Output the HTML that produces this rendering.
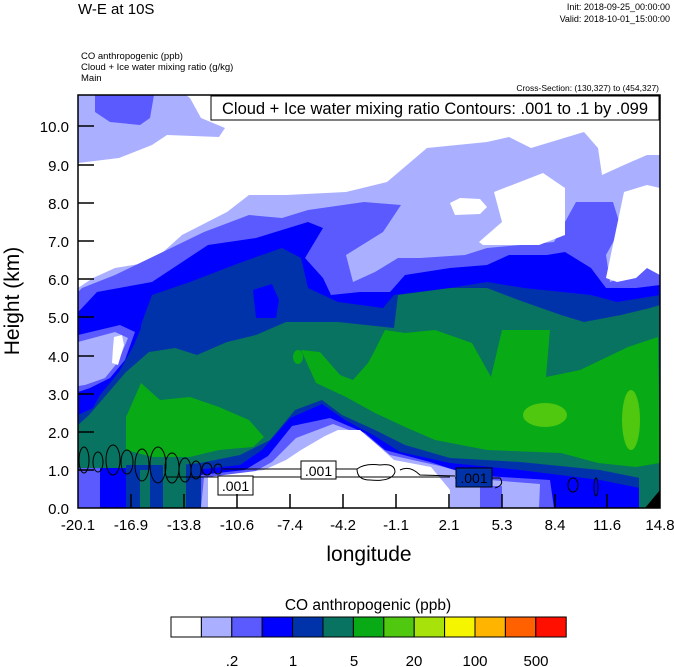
<!DOCTYPE html>
<html><head><meta charset="utf-8"><style>
html,body{margin:0;padding:0;background:#fff;}
svg{display:block;font-family:"Liberation Sans",sans-serif;}
</style></head><body>
<svg width="674" height="667" viewBox="0 0 674 667" xmlns="http://www.w3.org/2000/svg">
<text x="78" y="14" font-size="15">W-E at 10S</text>
<text x="670" y="10" font-size="9" text-anchor="end">Init: 2018-09-25_00:00:00</text>
<text x="670" y="22" font-size="9" text-anchor="end">Valid: 2018-10-01_15:00:00</text>
<text x="81" y="59" font-size="9.5">CO anthropogenic   (ppb)</text>
<text x="81" y="70" font-size="9.5">Cloud + Ice water mixing ratio   (g/kg)</text>
<text x="81" y="81" font-size="9.5">Main</text>
<text x="659" y="91" font-size="8.5" text-anchor="end">Cross-Section: (130,327) to (454,327)</text>
<defs><clipPath id="c"><rect x="78" y="95" width="582" height="413"/></clipPath></defs>
<g clip-path="url(#c)">
<rect x="78" y="95" width="582" height="413" fill="#aab0ff"/>
<!-- white top -->
<path d="M78,163 L119,158 L152,145 L167,135 L219,137 L225,128 L201,118 L190,98 L186,95 L660,95 L660,155 L647,155 L624,165 L602,175 L598,148 L584,132 L531,148 L509,137 L487,142 L427,148 L387,182 L346,192 L286,195 L249,195 L227,212 L182,235 L152,262 L115,268 L93,278 L78,288Z" fill="#fff"/>
<path d="M95,95 L154,95 L150,118 L140,125 L110,122 L95,112Z" fill="#5a5aff"/>
<!-- medium blue -->
<path d="M78,292 L82,288 L115,275 L171,248 L204,232 L249,215 L282,218 L308,210 L364,202 L401,205 L383,232 L346,255 L353,282 L375,272 L398,258 L420,258 L465,255 L487,248 L554,242 L576,202 L613,202 L621,228 L606,255 L610,282 L647,268 L660,275 L660,508 L78,508Z" fill="#5a5aff"/>
<!-- white patches -->
<path d="M450,203 L460,198 L480,199 L487,207 L480,214 L455,215Z" fill="#fff"/>
<path d="M479,242 L502,222 L494,192 L543,173 L565,188 L565,235 L539,245 L483,245Z" fill="#fff"/>
<path d="M606,278 L624,192 L647,185 L660,188 L660,275 L647,268 L636,278 L617,282Z" fill="#fff"/>
<!-- blue -->
<path d="M78,312 L82,308 L97,292 L152,282 L208,245 L256,238 L308,222 L323,228 L305,258 L323,278 L331,295 L360,292 L390,292 L405,275 L450,268 L487,265 L509,255 L547,255 L565,252 L591,268 L606,288 L636,288 L660,285 L660,508 L78,508Z" fill="#0000ff"/>
<!-- left light pocket -->
<path d="M78,335 L120,325 L135,332 L125,360 L110,378 L90,388 L78,392Z" fill="#5a5aff"/>
<path d="M78,342 L115,332 L128,338 L118,362 L105,378 L85,385 L78,386Z" fill="#aab0ff"/>
<path d="M114,337 L122,335 L124,345 L118,365 L112,363 L113,348Z" fill="#fff"/>
<!-- dark blue -->
<path d="M141,328 L141,325 L152,295 L190,282 L242,262 L282,248 L301,258 L308,288 L338,302 L383,308 L394,295 L450,288 L487,282 L524,288 L591,295 L617,302 L660,295 L660,508 L78,508 L78,415 L93,408 L100,395 L119,372 L134,345Z" fill="#0033aa"/>
<path d="M253,290 L272,284 L279,300 L276,318 L256,318Z" fill="#0000ff"/>
<!-- teal -->
<path d="M78,425 L89,415 L126,372 L149,352 L175,348 L197,355 L227,342 L256,335 L286,322 L338,322 L394,328 L398,295 L450,288 L487,288 L524,302 L561,315 L584,322 L621,315 L650,308 L660,305 L660,508 L78,508Z" fill="#077360"/>
<!-- green -->
<path d="M126,417 L141,383 L160,400 L190,397 L219,407 L249,420 L264,437 L253,447 L219,450 L190,457 L152,457 L126,450Z" fill="#08aa16"/>
<path d="M375,350 L385,330 L405,333 L435,330 L472,343 L491,377 L502,330 L550,330 L546,377 L580,370 L628,347 L658,337 L660,463 L636,467 L598,463 L561,453 L487,450 L435,440 L405,427 L375,413 L346,397 L316,383 L301,350 L320,352 L340,375 L353,380 L368,363Z" fill="#08aa16"/>
<ellipse cx="298" cy="357" rx="5" ry="7" fill="#08aa16"/>
<ellipse cx="545" cy="415" rx="22" ry="12" fill="#50c80f"/>
<ellipse cx="631" cy="420" rx="9" ry="30" fill="#50c80f"/>
<!-- surface region -->
<path d="M78,470 L150,468 L200,463 L240,455 L270,440 L295,410 L322,400 L342,415 L375,430 L405,445 L450,458 L520,462 L600,470 L640,478 L660,480 L660,508 L78,508Z" fill="#0033aa"/>
<path d="M190,508 L195,470 L240,465 L262,450 L290,418 L322,404 L345,420 L375,436 L400,452 L450,463 L520,470 L600,480 L640,488 L640,508Z" fill="#0000ff"/>
<path d="M198,508 L200,475 L245,470 L268,456 L292,426 L330,418 L365,433 L385,450 L430,462 L470,475 L550,480 L554,508Z" fill="#5a5aff"/>
<path d="M201,508 L204,477 L250,474 L272,462 L296,438 L333,424 L368,437 L390,455 L440,466 L490,480 L540,484 L539,508Z" fill="#aab0ff"/>
<path d="M208,508 L208,477 L264,470 L286,460 L301,450 L325,436 L338,430 L360,430 L375,443 L394,460 L431,467 L450,490 L450,508Z" fill="#fff"/>
<rect x="480" y="486" width="22" height="22" fill="#5a5aff"/>
<!-- left stripes -->
<rect x="78" y="468" width="22" height="40" fill="#5a5aff"/>
<rect x="100" y="468" width="26" height="40" fill="#0000ff"/>
<rect x="126" y="465" width="37" height="43" fill="#0033aa"/>
<rect x="140" y="470" width="10" height="38" fill="#077360"/>
<rect x="163" y="460" width="23" height="48" fill="#077360"/>
<rect x="186" y="468" width="15" height="40" fill="#0033aa"/>
<rect x="639" y="470" width="21" height="38" fill="#077360"/>
<path d="M645,508 L660,490 L660,508Z" fill="#000"/>
<!-- contours -->
<g fill="none" stroke="#000" stroke-width="1">
<path d="M223,469 L357,469 M167,477 L450,477 M357,469 Q365,463 380,465 Q395,463 395,472 Q392,482 370,480 Q357,480 357,469 M400,470 Q410,465 420,475 L455,476"/>
<ellipse cx="84" cy="460" rx="5" ry="13"/><ellipse cx="98" cy="462" rx="5" ry="10"/>
<ellipse cx="113" cy="460" rx="7" ry="15"/><ellipse cx="127" cy="462" rx="6" ry="12"/>
<ellipse cx="142" cy="465" rx="7" ry="16"/><ellipse cx="158" cy="465" rx="8" ry="18"/>
<ellipse cx="172" cy="468" rx="7" ry="15"/><ellipse cx="185" cy="470" rx="6" ry="12"/>
<ellipse cx="196" cy="470" rx="5" ry="9"/><ellipse cx="207" cy="469" rx="5" ry="6"/>
<ellipse cx="218" cy="469" rx="4" ry="5"/>
<ellipse cx="573" cy="485" rx="5" ry="7"/><ellipse cx="596" cy="487" rx="2" ry="9"/>
<path d="M455,478 L500,478 Q505,485 495,488"/>
</g>
<g font-size="14">
<rect x="218" y="476" width="35" height="19" fill="#fff" stroke="#000"/><text x="235.5" y="491" text-anchor="middle">.001</text>
<rect x="301" y="461" width="35" height="18" fill="#fff" stroke="#000"/><text x="318.5" y="476" text-anchor="middle">.001</text>
<rect x="456" y="468" width="36" height="19" fill="#0033aa" stroke="#000"/><text x="474" y="483" text-anchor="middle">.001</text>
</g>
</g>
<rect x="78" y="95" width="582" height="413" fill="none" stroke="#000" stroke-width="1.5"/>
<rect x="211" y="96" width="448" height="24" fill="#fff" stroke="#000"/>
<text x="435" y="114" font-size="16.5" text-anchor="middle">Cloud + Ice water mixing ratio Contours: .001 to .1 by .099</text>
<!-- y ticks -->
<g stroke="#000" stroke-width="1.5">
<path d="M78,126h16M78,165h16M78,203h16M78,241h16M78,279h16M78,317h16M78,356h16M78,394h16M78,432h16M78,470h16"/>
<path d="M131,508v-14M184,508v-14M237,508v-14M290,508v-14M343,508v-14M396,508v-14M449,508v-14M502,508v-14M555,508v-14M607,508v-14"/>
</g>
<g font-size="15" text-anchor="end">
<text x="69" y="132">10.0</text><text x="69" y="171">9.0</text><text x="69" y="209">8.0</text>
<text x="69" y="247">7.0</text><text x="69" y="285">6.0</text><text x="69" y="323">5.0</text>
<text x="69" y="362">4.0</text><text x="69" y="400">3.0</text><text x="69" y="438">2.0</text>
<text x="69" y="476">1.0</text><text x="69" y="514">0.0</text>
</g>
<g font-size="15" text-anchor="middle">
<text x="78" y="530">-20.1</text><text x="131" y="530">-16.9</text><text x="184" y="530">-13.8</text>
<text x="237" y="530">-10.6</text><text x="290" y="530">-7.4</text><text x="343" y="530">-4.2</text>
<text x="396" y="530">-1.1</text><text x="449" y="530">2.1</text><text x="502" y="530">5.3</text>
<text x="555" y="530">8.4</text><text x="607" y="530">11.6</text><text x="660" y="530">14.8</text>
</g>
<text x="369" y="561" font-size="21" text-anchor="middle">longitude</text>
<text transform="translate(19,301) rotate(-90)" font-size="21" text-anchor="middle">Height (km)</text>
<text x="368" y="610" font-size="15.5" text-anchor="middle">CO anthropogenic  (ppb)</text>
<g stroke="#000" stroke-width="1">
<rect x="171" y="617" width="30.4" height="20" fill="#ffffff"/>
<rect x="201.4" y="617" width="30.4" height="20" fill="#aab0ff"/>
<rect x="231.8" y="617" width="30.4" height="20" fill="#5a5aff"/>
<rect x="262.2" y="617" width="30.4" height="20" fill="#0000ff"/>
<rect x="292.6" y="617" width="30.4" height="20" fill="#0033aa"/>
<rect x="323" y="617" width="30.4" height="20" fill="#077360"/>
<rect x="353.4" y="617" width="30.4" height="20" fill="#08aa16"/>
<rect x="383.8" y="617" width="30.4" height="20" fill="#50c80f"/>
<rect x="414.2" y="617" width="30.4" height="20" fill="#a8e20b"/>
<rect x="444.6" y="617" width="30.4" height="20" fill="#f5f500"/>
<rect x="475" y="617" width="30.4" height="20" fill="#ffb400"/>
<rect x="505.4" y="617" width="30.4" height="20" fill="#ff6000"/>
<rect x="535.8" y="617" width="30.4" height="20" fill="#ff0f00"/>
</g>
<g font-size="15" text-anchor="middle">
<text x="232" y="666">.2</text><text x="293" y="666">1</text><text x="354" y="666">5</text>
<text x="414" y="666">20</text><text x="475" y="666">100</text><text x="536" y="666">500</text>
</g>
</svg>
</body></html>
